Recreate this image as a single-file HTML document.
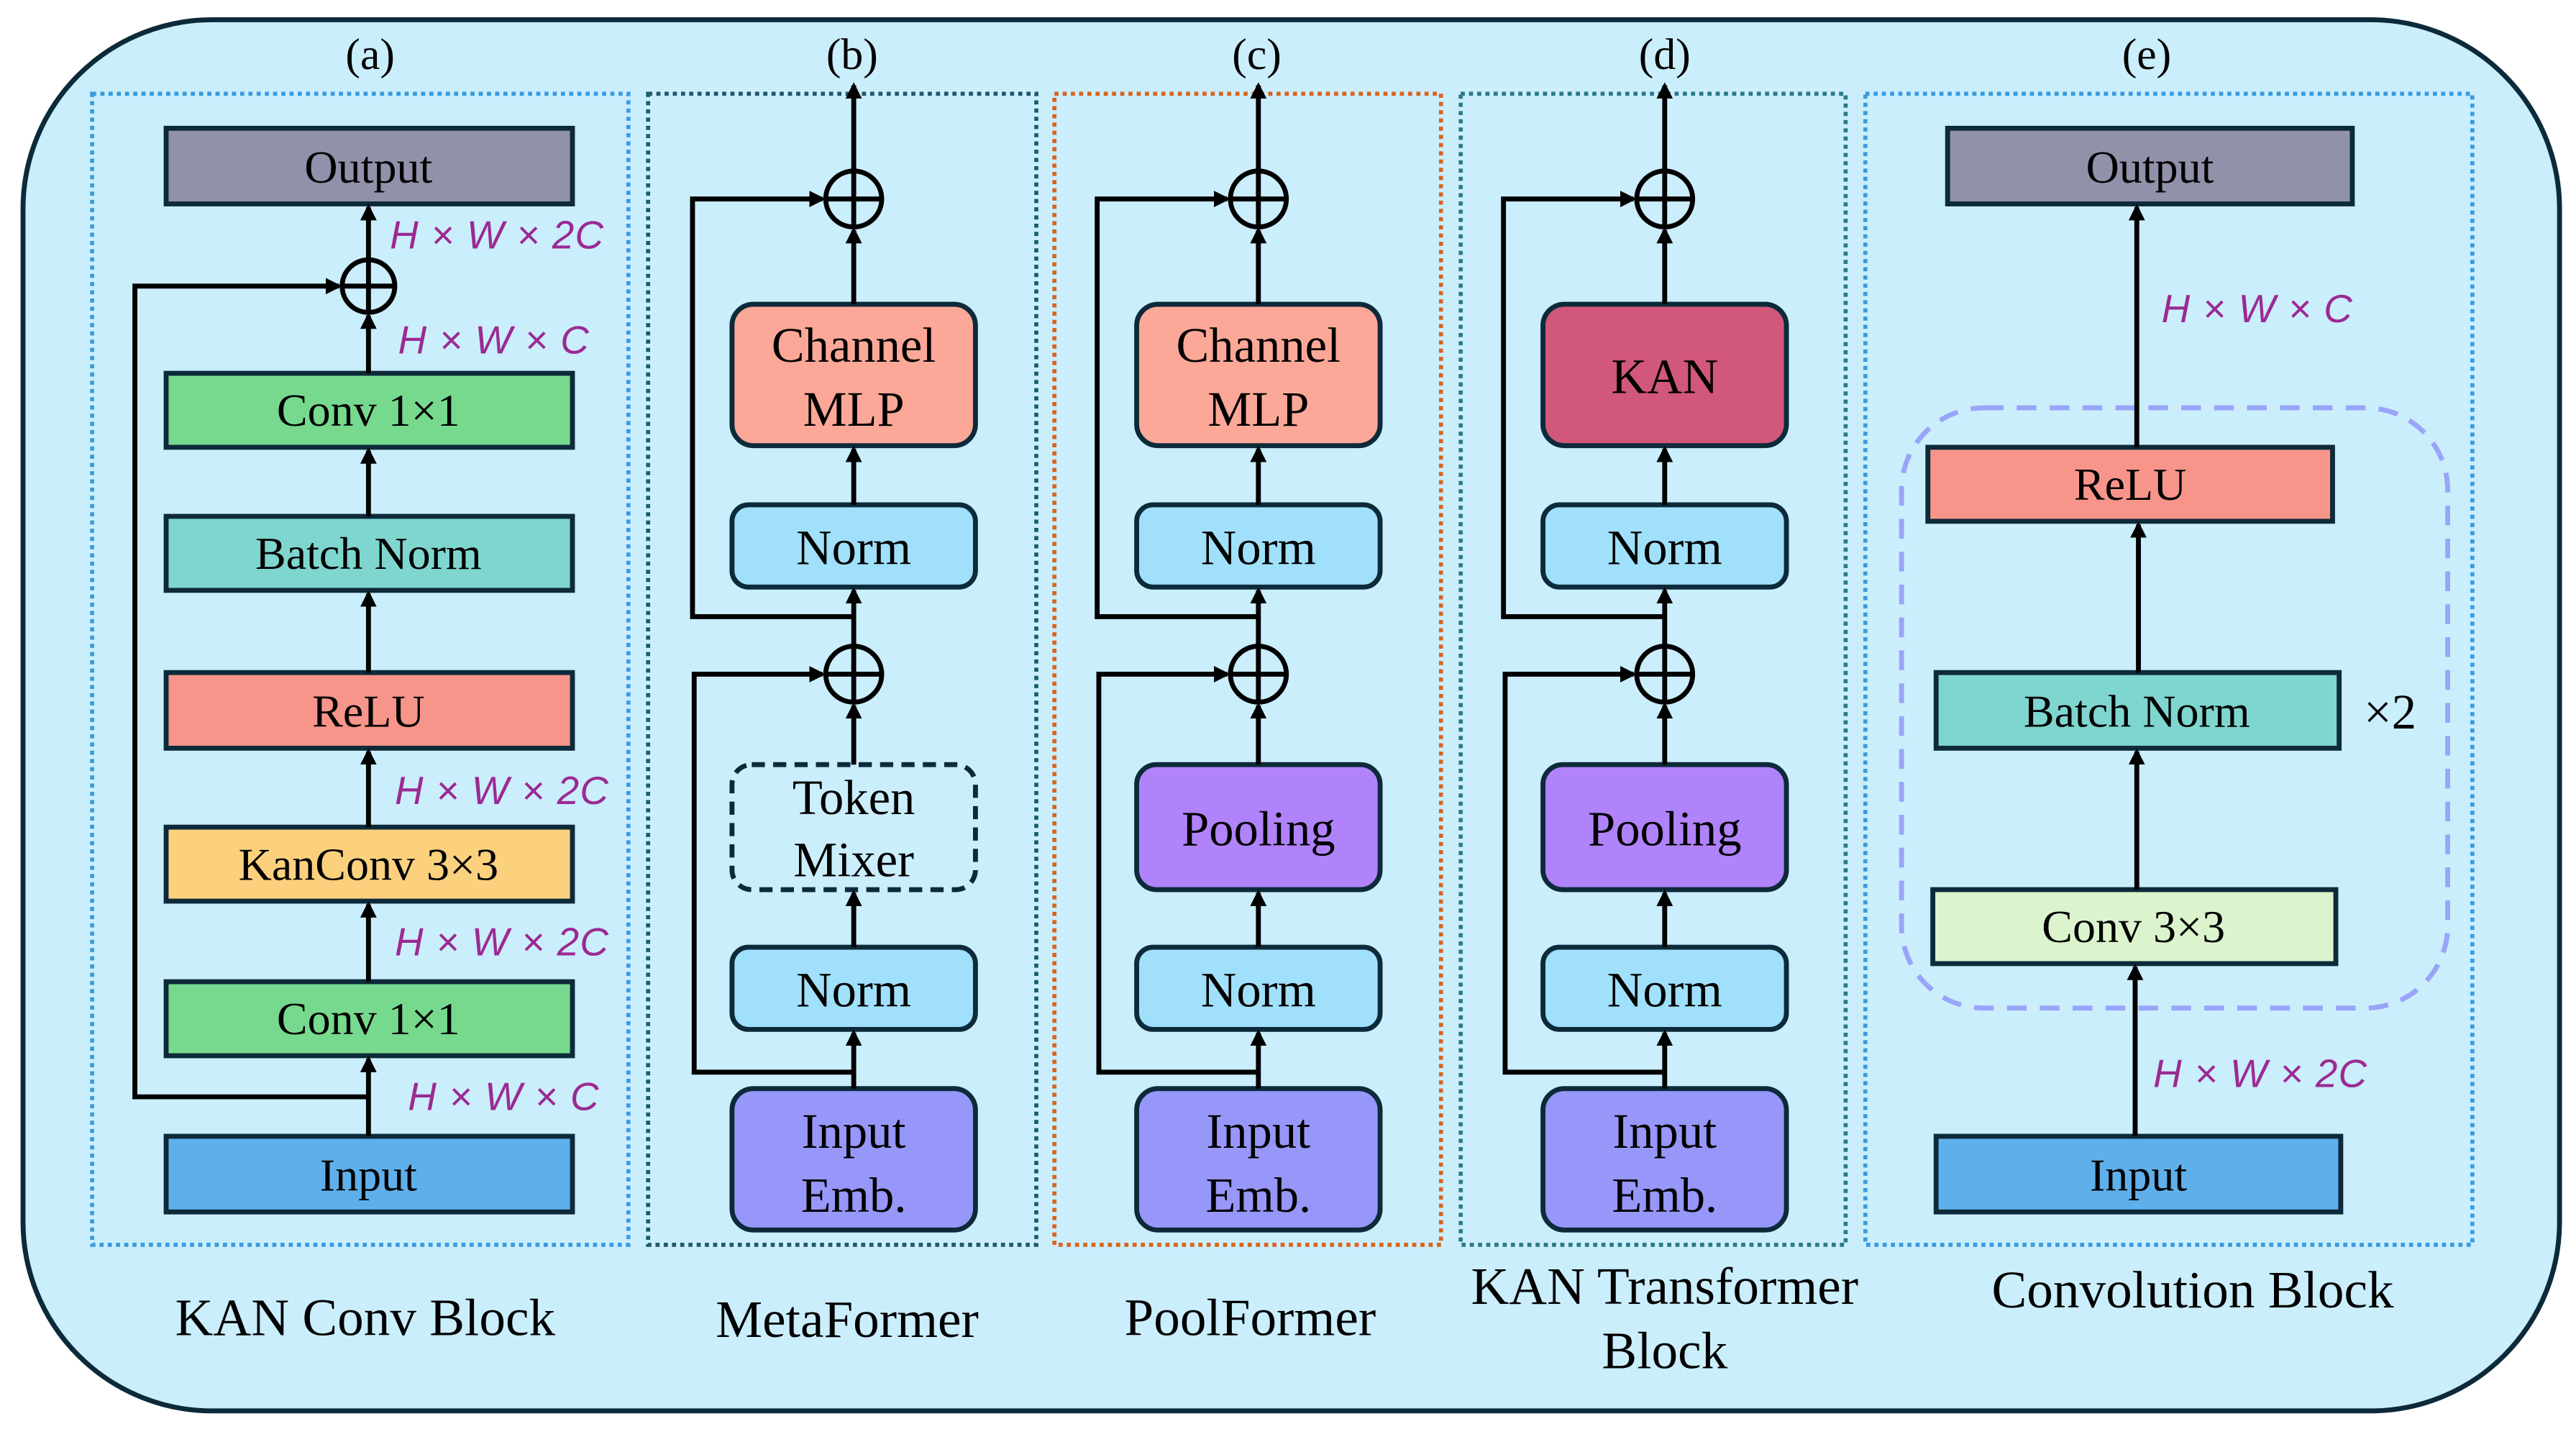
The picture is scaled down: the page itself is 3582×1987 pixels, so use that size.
<!DOCTYPE html>
<html><head><meta charset="utf-8"><style>
html,body{margin:0;padding:0;background:#fff;}
svg{display:block;}
text{font-family:"Liberation Serif","Times New Roman",serif;fill:#000;}
.m{font-family:"Liberation Sans",sans-serif;font-style:italic;fill:#9b2a93;font-size:24px;letter-spacing:0.5px;}
</style></head><body>
<svg width="3582" height="1987" viewBox="0 0 1566 869" preserveAspectRatio="none" xmlns="http://www.w3.org/2000/svg">
<defs>
<marker id="ar" markerWidth="10" markerHeight="10" refX="8" refY="5" orient="auto" markerUnits="userSpaceOnUse">
<path d="M0,0 L10,5 L0,10 z" fill="#000"/></marker>
</defs>
<rect x="14" y="12" width="1542" height="846" rx="115" fill="#cbeefc" stroke="#0d2a3a" stroke-width="3"/>
<g fill="none" stroke-width="2.5" stroke-dasharray="2.5 2.5">
<rect x="56" y="57" width="326" height="700" stroke="#3a9be0"/>
<rect x="394" y="57" width="236" height="700" stroke="#1f5a6e"/>
<rect x="641" y="57" width="235" height="700" stroke="#d9641e"/>
<rect x="888" y="57" width="234" height="700" stroke="#2a7a8a"/>
<rect x="1134" y="57" width="369" height="700" stroke="#3a9be0"/>
</g>
<g font-size="27" text-anchor="middle">
<text x="225" y="42">(a)</text><text x="518" y="42">(b)</text><text x="764" y="42">(c)</text><text x="1012" y="42">(d)</text><text x="1305" y="42">(e)</text>
</g>
<g font-size="32" text-anchor="middle">
<text x="222" y="812">KAN Conv Block</text>
<text x="515" y="813">MetaFormer</text>
<text x="760" y="812">PoolFormer</text>
<text x="1012" y="793">KAN Transformer</text>
<text x="1012" y="832">Block</text>
<text x="1333" y="795">Convolution Block</text>
</g>
<!-- panel a -->
<g stroke="#0d2a3a" stroke-width="3">
<rect x="101" y="78" width="247" height="46" fill="#9191aa"/>
<rect x="101" y="227" width="247" height="45" fill="#77d98e"/>
<rect x="101" y="314" width="247" height="45" fill="#7ed6cf"/>
<rect x="101" y="409" width="247" height="46" fill="#f7958a"/>
<rect x="101" y="503" width="247" height="45" fill="#fbd17e"/>
<rect x="101" y="597" width="247" height="45" fill="#77d98e"/>
<rect x="101" y="691" width="247" height="46" fill="#5fb0ea"/>
</g>
<g font-size="28" text-anchor="middle">
<text x="224" y="111">Output</text>
<text x="224" y="259">Conv 1×1</text>
<text x="224" y="346">Batch Norm</text>
<text x="224" y="442">ReLU</text>
<text x="224" y="535">KanConv 3×3</text>
<text x="224" y="629">Conv 1×1</text>
<text x="224" y="724">Input</text>
</g>
<g stroke="#000" stroke-width="3" fill="none">
<circle cx="224" cy="174" r="16"/><line x1="208" y1="174" x2="240" y2="174"/><line x1="224" y1="158" x2="224" y2="190"/>
<line x1="224" y1="158" x2="224" y2="126" marker-end="url(#ar)"/>
<line x1="224" y1="227" x2="224" y2="192" marker-end="url(#ar)"/>
<line x1="224" y1="314" x2="224" y2="274" marker-end="url(#ar)"/>
<line x1="224" y1="409" x2="224" y2="361" marker-end="url(#ar)"/>
<line x1="224" y1="503" x2="224" y2="457" marker-end="url(#ar)"/>
<line x1="224" y1="597" x2="224" y2="550" marker-end="url(#ar)"/>
<line x1="224" y1="691" x2="224" y2="644" marker-end="url(#ar)"/>
<polyline points="224,667 82,667 82,174 206,174" marker-end="url(#ar)"/>
</g>
<text class="m" x="237" y="151">H × W × 2C</text>
<text class="m" x="242" y="215">H × W × C</text>
<text class="m" x="240" y="489">H × W × 2C</text>
<text class="m" x="240" y="581">H × W × 2C</text>
<text class="m" x="248" y="675">H × W × C</text>

<!-- panels b c d -->
<g>
<g stroke="#0d2a3a" stroke-width="3">
<rect x="445" y="185" width="148" height="86" rx="13" fill="#fca898"/>
<rect x="445" y="307" width="148" height="50" rx="10" fill="#a0e0fb"/>
<rect x="445" y="465" width="148" height="76" rx="12" fill="#cbeefc" stroke-dasharray="8 5"/>
<rect x="445" y="576" width="148" height="50" rx="10" fill="#a0e0fb"/>
<rect x="445" y="662" width="148" height="86" rx="13" fill="#9797fa"/>
</g>
<g font-size="30" text-anchor="middle">
<text x="519" y="220">Channel</text><text x="519" y="259">MLP</text>
<text x="519" y="343">Norm</text>
<text x="519" y="495">Token</text><text x="519" y="533">Mixer</text>
<text x="519" y="612">Norm</text>
<text x="519" y="698">Input</text><text x="519" y="737">Emb.</text>
</g>
<g stroke="#000" stroke-width="3" fill="none">
<circle cx="519" cy="121" r="17"/><line x1="502" y1="121" x2="536" y2="121"/><line x1="519" y1="104" x2="519" y2="138"/>
<circle cx="519" cy="410" r="17"/><line x1="502" y1="410" x2="536" y2="410"/><line x1="519" y1="393" x2="519" y2="427"/>
<line x1="519" y1="104" x2="519" y2="52" marker-end="url(#ar)"/>
<line x1="519" y1="185" x2="519" y2="140" marker-end="url(#ar)"/>
<line x1="519" y1="307" x2="519" y2="273" marker-end="url(#ar)"/>
<line x1="519" y1="393" x2="519" y2="359" marker-end="url(#ar)"/>
<line x1="519" y1="465" x2="519" y2="429" marker-end="url(#ar)"/>
<line x1="519" y1="576" x2="519" y2="543" marker-end="url(#ar)"/>
<line x1="519" y1="662" x2="519" y2="628" marker-end="url(#ar)"/>
<polyline points="519,652 422,652 422,410 500,410" marker-end="url(#ar)"/>
<polyline points="519,375 421,375 421,121 500,121" marker-end="url(#ar)"/>
</g>
</g>
<g transform="translate(246,0)">
<g stroke="#0d2a3a" stroke-width="3">
<rect x="445" y="185" width="148" height="86" rx="13" fill="#fca898"/>
<rect x="445" y="307" width="148" height="50" rx="10" fill="#a0e0fb"/>
<rect x="445" y="465" width="148" height="76" rx="12" fill="#b083fa"/>
<rect x="445" y="576" width="148" height="50" rx="10" fill="#a0e0fb"/>
<rect x="445" y="662" width="148" height="86" rx="13" fill="#9797fa"/>
</g>
<g font-size="30" text-anchor="middle">
<text x="519" y="220">Channel</text><text x="519" y="259">MLP</text>
<text x="519" y="343">Norm</text>
<text x="519" y="514">Pooling</text>
<text x="519" y="612">Norm</text>
<text x="519" y="698">Input</text><text x="519" y="737">Emb.</text>
</g>
<g stroke="#000" stroke-width="3" fill="none">
<circle cx="519" cy="121" r="17"/><line x1="502" y1="121" x2="536" y2="121"/><line x1="519" y1="104" x2="519" y2="138"/>
<circle cx="519" cy="410" r="17"/><line x1="502" y1="410" x2="536" y2="410"/><line x1="519" y1="393" x2="519" y2="427"/>
<line x1="519" y1="104" x2="519" y2="52" marker-end="url(#ar)"/>
<line x1="519" y1="185" x2="519" y2="140" marker-end="url(#ar)"/>
<line x1="519" y1="307" x2="519" y2="273" marker-end="url(#ar)"/>
<line x1="519" y1="393" x2="519" y2="359" marker-end="url(#ar)"/>
<line x1="519" y1="465" x2="519" y2="429" marker-end="url(#ar)"/>
<line x1="519" y1="576" x2="519" y2="543" marker-end="url(#ar)"/>
<line x1="519" y1="662" x2="519" y2="628" marker-end="url(#ar)"/>
<polyline points="519,652 422,652 422,410 500,410" marker-end="url(#ar)"/>
<polyline points="519,375 421,375 421,121 500,121" marker-end="url(#ar)"/>
</g>
</g>
<g transform="translate(493,0)">
<g stroke="#0d2a3a" stroke-width="3">
<rect x="445" y="185" width="148" height="86" rx="13" fill="#d1587a"/>
<rect x="445" y="307" width="148" height="50" rx="10" fill="#a0e0fb"/>
<rect x="445" y="465" width="148" height="76" rx="12" fill="#b083fa"/>
<rect x="445" y="576" width="148" height="50" rx="10" fill="#a0e0fb"/>
<rect x="445" y="662" width="148" height="86" rx="13" fill="#9797fa"/>
</g>
<g font-size="30" text-anchor="middle">
<text x="519" y="239">KAN</text>
<text x="519" y="343">Norm</text>
<text x="519" y="514">Pooling</text>
<text x="519" y="612">Norm</text>
<text x="519" y="698">Input</text><text x="519" y="737">Emb.</text>
</g>
<g stroke="#000" stroke-width="3" fill="none">
<circle cx="519" cy="121" r="17"/><line x1="502" y1="121" x2="536" y2="121"/><line x1="519" y1="104" x2="519" y2="138"/>
<circle cx="519" cy="410" r="17"/><line x1="502" y1="410" x2="536" y2="410"/><line x1="519" y1="393" x2="519" y2="427"/>
<line x1="519" y1="104" x2="519" y2="52" marker-end="url(#ar)"/>
<line x1="519" y1="185" x2="519" y2="140" marker-end="url(#ar)"/>
<line x1="519" y1="307" x2="519" y2="273" marker-end="url(#ar)"/>
<line x1="519" y1="393" x2="519" y2="359" marker-end="url(#ar)"/>
<line x1="519" y1="465" x2="519" y2="429" marker-end="url(#ar)"/>
<line x1="519" y1="576" x2="519" y2="543" marker-end="url(#ar)"/>
<line x1="519" y1="662" x2="519" y2="628" marker-end="url(#ar)"/>
<polyline points="519,652 422,652 422,410 500,410" marker-end="url(#ar)"/>
<polyline points="519,375 421,375 421,121 500,121" marker-end="url(#ar)"/>
</g>
</g>

<!-- panel e -->
<rect x="1156" y="248" width="332" height="365" rx="50" fill="none" stroke="#9aa4f8" stroke-width="3" stroke-dasharray="12 8"/>
<g stroke="#0d2a3a" stroke-width="3">
<rect x="1184" y="78" width="246" height="46" fill="#9191aa"/>
<rect x="1172" y="272" width="246" height="45" fill="#f7958a"/>
<rect x="1177" y="409" width="245" height="46" fill="#7ed6cf"/>
<rect x="1175" y="541" width="245" height="45" fill="#dcf4cd"/>
<rect x="1177" y="691" width="246" height="46" fill="#5fb0ea"/>
</g>
<g font-size="28" text-anchor="middle">
<text x="1307" y="111">Output</text>
<text x="1295" y="304">ReLU</text>
<text x="1299" y="442">Batch Norm</text>
<text x="1297" y="573">Conv 3×3</text>
<text x="1300" y="724">Input</text>
</g>
<text x="1453" y="443" font-size="30" text-anchor="middle">×2</text>
<g stroke="#000" stroke-width="3" fill="none">
<line x1="1299" y1="272" x2="1299" y2="126" marker-end="url(#ar)"/>
<line x1="1300" y1="409" x2="1300" y2="319" marker-end="url(#ar)"/>
<line x1="1299" y1="541" x2="1299" y2="457" marker-end="url(#ar)"/>
<line x1="1298" y1="691" x2="1298" y2="588" marker-end="url(#ar)"/>
</g>
<text class="m" x="1314" y="196">H × W × C</text>
<text class="m" x="1309" y="661">H × W × 2C</text>
</svg>
</body></html>
